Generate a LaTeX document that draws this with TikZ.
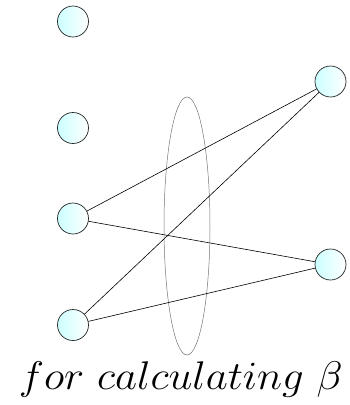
\RequirePackage{fix-cm}
\documentclass[tikz,border=0pt]{standalone}
\usetikzlibrary{shapes.geometric}
\begin{document}
\begin{tikzpicture}[x=1pt,y=-1pt,
  unit/.style={circle,draw=black!85,line width=0.7pt,minimum size=31pt,inner sep=0pt,left color=cyan!20,right color=white},
  link/.style={draw=black,line width=0.6pt}]
\useasboundingbox (0,0) rectangle (350,405);
\node[unit] (l1) at (73,21.5) {};
\node[unit] (l2) at (73,128) {};
\node[unit] (l3) at (73,218.5) {};
\node[unit] (l4) at (73,325) {};
\node[unit] (r1) at (330.5,81.5) {};
\node[unit] (r2) at (330.5,264.5) {};
\node[ellipse,draw=black!55,line width=0.5pt,minimum width=46pt,minimum height=258pt,inner sep=0pt] (ell) at (187,226) {};
\draw[link] (l3) -- (r1);
\draw[link] (l3) -- (r2);
\draw[link] (l4) -- (r1);
\draw[link] (l4) -- (r2);
\node[font=\fontsize{40}{46}\selectfont,anchor=base,inner sep=0pt] (cap) at (181,389) {\scalebox{1.07}[1]{$for\ calculating\ \beta$}};
\end{tikzpicture}
\end{document}
